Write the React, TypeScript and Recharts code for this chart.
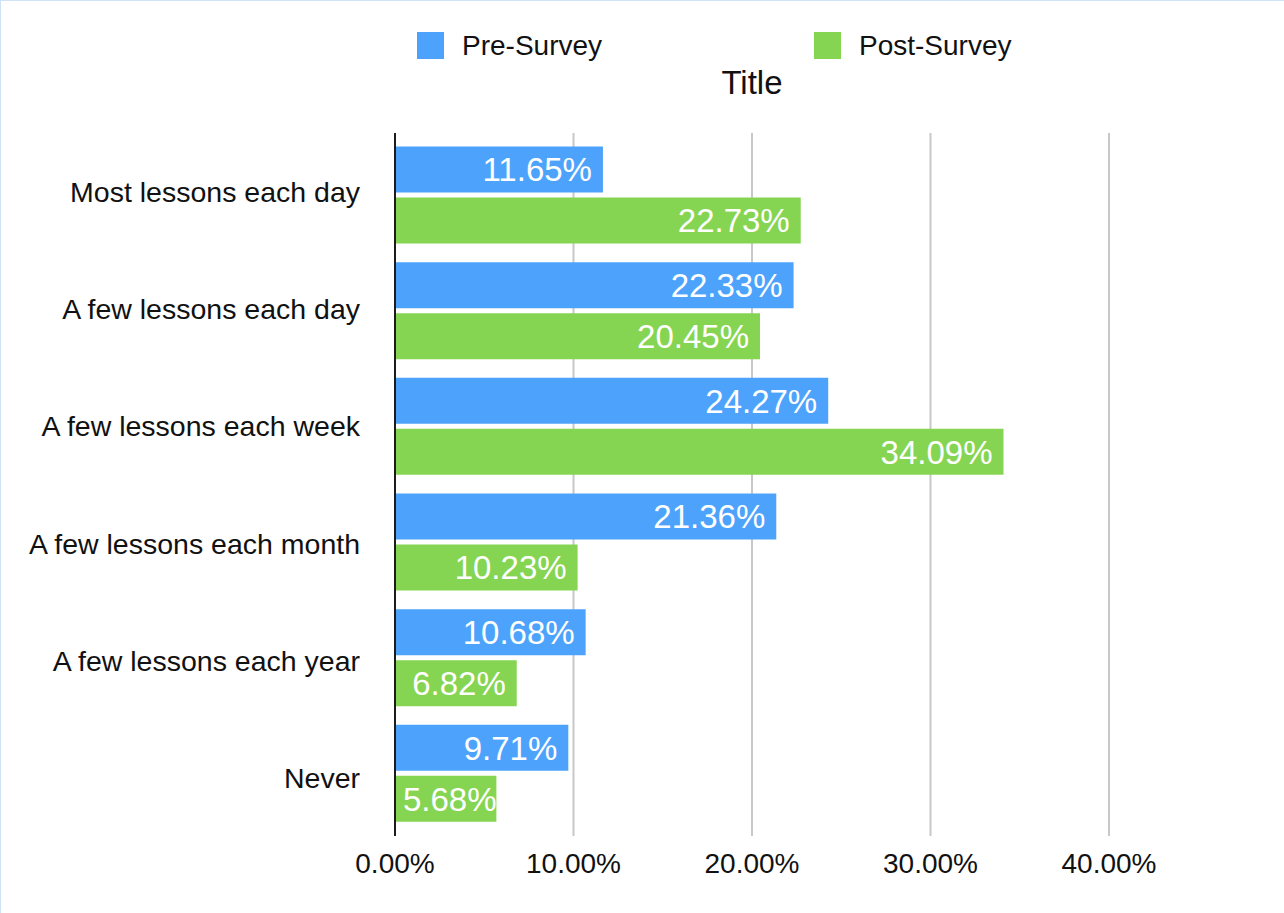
import { BarChart, Bar, XAxis, YAxis, CartesianGrid, Legend, LabelList } from 'recharts';

const categories = [
    'Most lessons each day',
    'A few lessons each day',
    'A few lessons each week',
    'A few lessons each month',
    'A few lessons each year',
    'Never',
];
const preSurvey = [11.65, 22.33, 24.27, 21.36, 10.68, 9.71];
const postSurvey = [22.73, 20.45, 34.09, 10.23, 6.82, 5.68];
const xTicks = [0, 10, 20, 30, 40];

const seriesNames = { pre: 'Pre-Survey', post: 'Post-Survey' };
const BLUE = '#4da3fc';
const GREEN = '#86d552';
const FONT = '"Liberation Sans", Arial, Helvetica, sans-serif';

const data = categories.map((name, i) => ({
    name,
    pre: preSurvey[i],
    post: postSurvey[i],
}));

// rough Arial widths, good enough to decide if a label fits in its bar
const charWidth = (c: string) => (c === '.' ? 0.278 : c === '%' ? 0.889 : 0.556);
const LABEL_SIZE = 33;

const BarValueLabel = (props: any) => {
    const vb = props.viewBox ?? props;
    const { x, y, width, height } = vb;
    if (width == null || height == null) return null;
    const text = `${Number(props.value).toFixed(2)}%`;
    const w = text.split('').reduce((s, c) => s + charWidth(c), 0) * LABEL_SIZE;
    const fits = width - 11 - w >= 8;
    return (
        <svg x={x} y={y} width={width} height={height} overflow="hidden">
            <text
                x={fits ? width - 11 : 8}
                y={height / 2}
                dy="0.355em"
                textAnchor={fits ? 'end' : 'start'}
                fill="#fff"
                fontSize={LABEL_SIZE}
                fontFamily={FONT}
            >
                {text}
            </text>
        </svg>
    );
};

const CategoryTick = (props: any) => {
    const { x, y, payload } = props;
    return (
        <text x={x} y={y} dy={10.5} textAnchor="end" fill="#111" fontSize={28.5} fontFamily={FONT}>
            {payload.value}
        </text>
    );
};

const LegendContent = () => {
    const items = [
        { label: seriesNames.pre, color: BLUE, left: 417 },
        { label: seriesNames.post, color: GREEN, left: 814 },
    ];
    return (
        <div style={{ position: 'relative', width: 1284, height: 70 }}>
            {items.map((it) => (
                <div
                    key={it.label}
                    style={{
                        position: 'absolute',
                        left: it.left,
                        top: 32,
                        height: 27,
                        display: 'flex',
                        alignItems: 'center',
                    }}
                >
                    <span style={{ width: 27, height: 27, background: it.color, marginRight: 18 }} />
                    <span style={{ fontSize: 28, lineHeight: '27px', color: '#111', fontFamily: FONT }}>
                        {it.label}
                    </span>
                </div>
            ))}
        </div>
    );
};

export default function App() {
    return (
        <div style={{ position: 'absolute', left: 0, top: 0, width: 1284, height: 913, background: '#fff' }}>
            <div
                style={{
                    position: 'absolute',
                    left: 652,
                    top: 66,
                    width: 200,
                    textAlign: 'center',
                    fontSize: 33,
                    lineHeight: '33px',
                    fontFamily: FONT,
                    color: '#111',
                    zIndex: 2,
                }}
            >
                Title
            </div>
            <BarChart
                width={1284}
                height={913}
                data={data}
                layout="vertical"
                margin={{ top: 133, right: 175, bottom: 37, left: 0 }}
                barSize={46}
                barGap={5}
            >
                <CartesianGrid horizontal={false} yAxisId="labels" stroke="#c8c8c8" strokeWidth={2} />
                <XAxis
                    type="number"
                    domain={[0, 40]}
                    ticks={xTicks}
                    tickFormatter={(v) => `${Number(v).toFixed(2)}%`}
                    axisLine={false}
                    tickLine={false}
                    tickSize={0}
                    tickMargin={17}
                    height={40}
                    tick={{ fontSize: 28, fill: '#111', fontFamily: FONT }}
                />
                {/* visible axis: labels sit at the plain band centres */}
                <YAxis
                    yAxisId="labels"
                    type="category"
                    dataKey="name"
                    width={395}
                    axisLine={{ stroke: '#1c1c1c', strokeWidth: 2 }}
                    tickLine={false}
                    tickSize={0}
                    tickMargin={35}
                    tick={<CategoryTick />}
                    interval={0}
                />
                {/* hidden axis for the bars, pulled in slightly at both ends */}
                <YAxis
                    yAxisId="bars"
                    type="category"
                    dataKey="name"
                    hide
                    width={0}
                    padding={{ top: 4.5, bottom: 4.5 }}
                />
                <Legend
                    layout="vertical"
                    verticalAlign="middle"
                    align="center"
                    wrapperStyle={{ top: 0, left: 0, width: 1284 }}
                    content={<LegendContent />}
                />
                <Bar yAxisId="bars" dataKey="pre" name={seriesNames.pre} fill={BLUE} isAnimationActive={false}>
                    <LabelList dataKey="pre" content={BarValueLabel} />
                </Bar>
                <Bar yAxisId="bars" dataKey="post" name={seriesNames.post} fill={GREEN} isAnimationActive={false}>
                    <LabelList dataKey="post" content={BarValueLabel} />
                </Bar>
            </BarChart>
            <div style={{ position: 'absolute', left: 0, top: 0, width: 1284, height: 1, background: '#cfe2f6' }} />
            <div style={{ position: 'absolute', left: 0, top: 0, width: 1, height: 913, background: '#cfe2f6' }} />
        </div>
    );
}
